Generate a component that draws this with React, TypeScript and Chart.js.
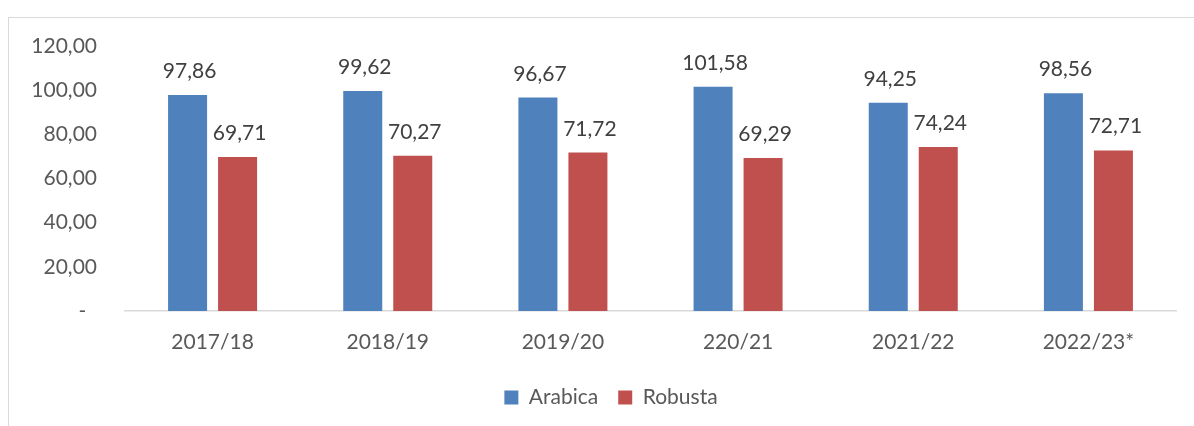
import React, { useEffect, useRef } from "react";
import { Chart, registerables } from "chart.js";

Chart.register(...registerables);

const categories = ["2017/18", "2018/19", "2019/20", "220/21", "2021/22", "2022/23*"];
const arabica = [97.86, 99.62, 96.67, 101.58, 94.25, 98.56];
const robusta = [69.71, 70.27, 71.72, 69.29, 74.24, 72.71];
const seriesNames = ["Arabica", "Robusta"];
const yTicks = [0, 20, 40, 60, 80, 100, 120];

const FONT = "Lato, 'Open Sans', sans-serif";
const fmt = (v: number) => v.toFixed(2).replace(".", ",");

const dataLabels = {
  id: "dataLabels",
  afterDatasetsDraw(chart: any) {
    const ctx = chart.ctx;
    ctx.save();
    ctx.font = `21px ${FONT}`;
    ctx.fillStyle = "#404040";
    ctx.textAlign = "center";
    ctx.textBaseline = "alphabetic";
    chart.data.datasets.forEach((ds: any, i: number) => {
      const meta = chart.getDatasetMeta(i);
      meta.data.forEach((bar: any, j: number) => {
        ctx.fillText(fmt(ds.data[j]), bar.x + 2, bar.y - 17);
      });
    });
    ctx.restore();
  },
};

const legendShift = {
  id: "legendShift",
  afterLayout(chart: any) {
    const lg = chart.legend;
    if (lg) {
      lg.left += 23;
      lg.right += 23;
    }
  },
};

export default function App() {
  const ref = useRef<HTMLCanvasElement>(null);
  useEffect(() => {
    if (!ref.current) return;
    const chart = new Chart(ref.current, {
      type: "bar",
      data: {
        labels: categories,
        datasets: [
          { label: seriesNames[0], data: arabica, backgroundColor: "#4F81BD" },
          { label: seriesNames[1], data: robusta, backgroundColor: "#C0504D" },
        ],
      },
      options: {
        animation: false,
        responsive: false,
        maintainAspectRatio: false,
        layout: { padding: { top: 46, right: 18, bottom: 8, left: 0 } },
        datasets: { bar: { categoryPercentage: 0.571, barPercentage: 0.78 } },
        plugins: {
          legend: {
            position: "bottom",
            labels: {
              font: { family: FONT, size: 21 },
              color: "#595959",
              boxWidth: 14,
              boxHeight: 14,
              padding: 20,
            },
          },
          tooltip: { enabled: false },
        },
        scales: {
          x: {
            grid: { display: false, drawTicks: false },
            border: { display: true, color: "#D9D9D9", width: 1.5 },
            ticks: { font: { family: FONT, size: 21 }, color: "#595959", padding: 19 },
            afterFit: (s: any) => { s.height = 56; },
          },
          y: {
            min: 0,
            max: 120,
            afterBuildTicks: (s: any) => { s.ticks = yTicks.map((v) => ({ value: v })); },
            grid: { display: false, drawTicks: false },
            border: { display: false },
            ticks: {
              font: { family: FONT, size: 21 },
              color: "#595959",
              padding: 28,
              callback: (v: any) => (Number(v) === 0 ? "-  " : fmt(Number(v))),
            },
            afterFit: (s: any) => { s.width = 125; },
          },
        },
      } as any,
      plugins: [dataLabels, legendShift],
    });
    return () => chart.destroy();
  }, []);
  return (
    <div style={{ position: "absolute", left: 0, top: 0, width: 1194, height: 426, background: "#fff", overflow: "hidden" }}>
      <div style={{ position: "absolute", left: 8, top: 17, width: 1300, height: 500, borderLeft: "1.5px solid #D9D9D9", borderTop: "1.5px solid #D9D9D9" }} />
      <canvas ref={ref} width={1194} height={426} style={{ position: "absolute", left: 0, top: 0 }} />
    </div>
  );
}
